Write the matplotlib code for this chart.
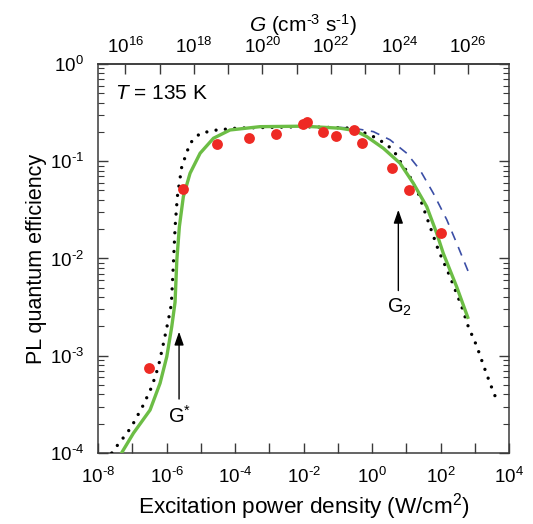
import numpy as np
import matplotlib
matplotlib.use('Agg')
import matplotlib.pyplot as plt
from matplotlib.ticker import NullLocator, LogLocator

plt.rcParams['font.family'] = ['Liberation Sans', 'DejaVu Sans']
plt.rcParams['mathtext.fontset'] = 'custom'
plt.rcParams['mathtext.rm'] = 'Liberation Sans'
plt.rcParams['mathtext.it'] = 'Liberation Sans:italic'
plt.rcParams['mathtext.default'] = 'regular'

# measured PL quantum efficiency vs excitation power density (W/cm^2)
power = [3.1e-7, 3.1e-6, 3.0e-5, 2.6e-4, 1.54e-3, 9.9e-3, 1.24e-2, 3.6e-2,
         8.9e-2, 0.295, 0.50, 3.76, 12.0, 101]
plqe = [7.5e-4, 0.0516, 0.149, 0.172, 0.192, 0.240, 0.255, 0.201,
        0.182, 0.209, 0.155, 0.086, 0.0506, 0.0184]

# model curves, log10(P) and log10(PLQE)
fit_logp = [-7.40, -6.969, -6.482, -6.19, -5.994, -5.848, -5.752, -5.70, -5.626,
            -5.51, -5.314, -5.02, -4.63, -4.146, -3.27, -2.0, -0.934, -0.5,
            -0.155, 0.33, 0.818, 1.206, 1.597, 1.883, 2.08, 2.47, 2.795]
fit_logq = [-4.05, -3.797, -3.558, -3.283, -3.01, -2.70, -2.45, -2.015, -1.673,
            -1.364, -1.124, -0.918, -0.764, -0.679, -0.645, -0.64, -0.661, -0.685,
            -0.747, -0.867, -1.021, -1.227, -1.467, -1.735, -1.947, -2.29, -2.605]

dot_logp = [-7.6, -7.358, -7.16, -6.97, -6.677, -6.43, -6.24, -6.09, -5.947,
            -5.86, -5.80, -5.75, -5.685, -5.556, -5.314, -5.02, -4.53, -3.95,
            -2.0, -0.6, -0.058, 0.185, 0.476, 0.72, 0.867, 1.06, 1.206, 1.35,
            1.936, 2.277, 2.62, 2.81, 3.057, 3.25, 3.445, 3.67]
dot_logq = [-4.0, -3.884, -3.80, -3.695, -3.506, -3.318, -3.113, -2.872, -2.632,
            -2.47, -2.05, -1.673, -1.364, -1.056, -0.815, -0.713, -0.679, -0.66,
            -0.645, -0.66, -0.73, -0.774, -0.843, -0.936, -1.031, -1.124, -1.234, -1.33,
            -1.913, -2.187, -2.496, -2.70, -2.90, -3.095, -3.283, -3.483]

dash_logp = [-1.0, -0.546, 0.038, 0.525, 1.013, 1.4, 1.79, 2.18, 2.473, 2.81]
dash_logq = [-0.652, -0.661, -0.696, -0.78, -0.918, -1.09, -1.33, -1.6, -1.844, -2.135]

HY = '\u2010'  # short hyphen for the exponents


def pow_label(k):
    return '10$^{%s}$' % (str(k) if k >= 0 else HY + str(-k))


x_ticks = [10.0**k for k in range(-8, 5)]
x_labels = [pow_label(k) if k % 2 == 0 else '' for k in range(-8, 5)]
g_ticks = [10.0**k for k in range(16, 27)]
g_labels = [pow_label(k) if k % 2 == 0 else '' for k in range(16, 27)]
y_ticks = [1e-4, 1e-3, 1e-2, 1e-1, 1]
y_labels = [pow_label(k) for k in range(-4, 1)]

G_OFFSET = 10**23.2  # G (cm^-3 s^-1) per W/cm^2

fig = plt.figure(figsize=(5.33, 5.24), dpi=100)
ax = fig.add_subplot(111)
fig.subplots_adjust(left=0.184, right=0.955, bottom=0.1355, top=0.878)

ax.plot(10**np.array(dash_logp), 10**np.array(dash_logq), color='#3b4ea6',
        lw=1.2, dashes=(5.5, 4.5), zorder=2)
ax.plot(10**np.array(dot_logp), 10**np.array(dot_logq), color='black',
        lw=2.4, linestyle=(0, (0.01, 2.8)), dash_capstyle='round', zorder=3)
ax.plot(10**np.array(fit_logp), 10**np.array(fit_logq), color='#6cbd45',
        lw=2.4, solid_joinstyle='round', zorder=4)
ax.plot(power, plqe, 'o', color='#ee2a24', ms=7.8, mec='none', zorder=5)

ax.set_xscale('log')
ax.set_yscale('log')
ax.set_xlim(1e-8, 1e4)
ax.set_ylim(1e-4, 1)

ax.set_xticks(x_ticks, x_labels)
ax.xaxis.set_minor_locator(NullLocator())
ax.set_yticks(y_ticks, y_labels)
ax.yaxis.set_minor_locator(LogLocator(base=10, subs=np.arange(2, 10)))
ax.tick_params(axis='x', which='major', direction='in', length=7, width=1,
               top=False, labelsize=13.5, pad=10, color='#3a3a3a')
ax.tick_params(axis='y', which='major', direction='in', length=7, width=1,
               right=True, labelsize=13.5, pad=10, color='#3a3a3a')
ax.tick_params(axis='y', which='minor', direction='in', length=4, width=0.8,
               right=True, color='#3a3a3a')
for s in ax.spines.values():
    s.set_color('#3a3a3a')
    s.set_linewidth(1.1)

secax = ax.secondary_xaxis('top', functions=(lambda p: p * G_OFFSET,
                                             lambda g: g / G_OFFSET))
secax.set_xticks(g_ticks, g_labels)
secax.xaxis.set_minor_locator(NullLocator())
secax.tick_params(direction='in', length=7, width=1, labelsize=13.5, pad=5,
                  color='#3a3a3a')
secax.spines['top'].set_color('#3a3a3a')
secax.spines['top'].set_linewidth(1.1)
secax.set_xlabel(r'$\mathit{G}$ (cm$^{%s3}$ s$^{%s1}$)' % (HY, HY),
                 fontsize=15, labelpad=4)

ax.set_xlabel('Excitation power density (W/cm$^{2}$)', fontsize=16.2, labelpad=3)
ax.set_ylabel('PL quantum efficiency', fontsize=15.5, labelpad=2)

ax.text(0.04, 0.925, r'$\mathit{T}$ = 135 K', transform=ax.transAxes,
        fontsize=15, ha='left', va='center')

arrow = dict(arrowstyle='-|>,head_length=0.8,head_width=0.28', color='black',
             lw=1.0, shrinkA=0, shrinkB=0, mutation_scale=10)
ax.annotate('', xy=(10**-5.635, 10**-2.753), xytext=(10**-5.635, 10**-3.445),
            arrowprops=arrow)
ax.text(10**-5.62, 10**-3.62, 'G$^{*}$', fontsize=14.5, ha='center', va='center')
ax.annotate('', xy=(10**0.768, 10**-1.50), xytext=(10**0.768, 10**-2.33),
            arrowprops=arrow)
ax.text(10**0.80, 10**-2.50, 'G$_{2}$', fontsize=14.5, ha='center', va='center')

fig.savefig('out.png', dpi=100)
